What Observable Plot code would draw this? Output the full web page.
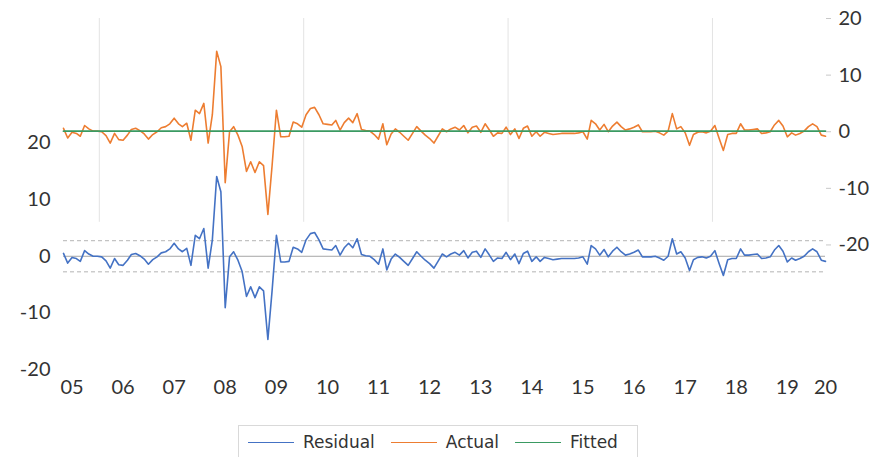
<!DOCTYPE html>
<html>
<head>
<meta charset="utf-8">
<script src="https://cdn.jsdelivr.net/npm/d3@7"></script>
<script src="https://cdn.jsdelivr.net/npm/@observablehq/plot@0.6"></script>
<style>
  html, body { margin: 0; padding: 0; background: #fff; }
  #chart { width: 878px; }
  .legend {
    box-sizing: border-box;
    margin: 5px 0 0 238px;
    width: 400px; height: 34px;
    border: 1px solid #d9d9d9;
    display: flex; align-items: center;
    padding-left: 9px;
    font-family: "DejaVu Sans", sans-serif; font-size: 17px; color: #333;
  }
  .legend .item { display: flex; align-items: center; margin-right: 16px; }
  .legend .swatch { width: 46px; height: 0; border-top: 1.6px solid; margin-right: 9px; }
</style>
</head>
<body>
<div id="chart"></div>
<script>
// Monthly observations, first month of the sample
const startMonth = [2004, 10]; // November 2004 (month is 0-based)

// Actual values (right-hand scale)
const actual = [
  0.6, -1.1, -0.1, -0.3, -0.8, 1.1, 0.5, 0.1, 0.1, 0.0,
  -0.7, -2.0, -0.3, -1.4, -1.5, -0.6, 0.4, 0.6, 0.2, -0.4,
  -1.3, -0.5, 0.0, 0.7, 0.9, 1.4, 2.4, 1.4, 0.9, 1.5,
  -1.5, 3.8, 3.2, 5.0, -2.0, 3.0, 14.2, 11.5, -9.0, 0.0,
  0.9, -0.6, -2.6, -7.0, -5.3, -7.2, -5.3, -6.0, -14.6, -6.0,
  3.8, -0.9, -0.9, -0.8, 1.7, 1.4, 0.8, 3.0, 4.1, 4.3,
  3.0, 1.4, 1.3, 1.2, 2.0, 0.3, 1.6, 2.4, 1.6, 3.2,
  0.4, 0.2, 0.1, -0.5, -1.3, 1.4, -2.3, -0.4, 0.5, -0.1,
  -0.8, -1.5, -0.3, 0.9, 0.1, -0.6, -1.2, -2.0, -0.8, 0.5,
  0.0, 0.5, 0.8, 0.3, 1.1, -0.2, 0.8, 1.0, -0.1, 1.4,
  0.4, -0.8, -0.2, -0.3, 0.8, -0.5, 0.5, -1.2, 0.6, 1.0,
  -0.8, 0.0, -0.8, -0.1, -0.3, -0.5, -0.4, -0.3, -0.3, -0.3,
  -0.3, -0.2, 0.0, -1.3, 2.0, 1.4, 0.3, 1.3, 0.0, 1.0,
  1.7, 0.9, 0.3, 0.5, 0.8, 1.2, 0.0, 0.0, 0.0, 0.1,
  -0.2, -0.6, 0.1, 3.2, 0.5, 0.9, -0.2, -2.4, -0.5, -0.1,
  0.0, -0.2, 0.1, 1.1, -1.2, -3.3, -0.5, -0.3, -0.3, 1.4,
  0.3, 0.3, 0.4, 0.5, -0.3, -0.2, 0.0, 1.2, 2.0, 1.0,
  -0.9, -0.2, -0.6, -0.3, 0.1, 0.9, 1.4, 0.9, -0.6, -0.8
];

// Fitted value (constant-only model) and standard error of the regression
const fittedLevel = 0.1;
const residualSE = 2.75;

// Axis ticks
const leftTicks = [-20, -10, 0, 10, 20];
const rightTicks = [-20, -10, 0, 10, 20];
const yearTickDates = ["2005-01-01", "2006-01-01", "2007-01-01", "2008-01-01", "2009-01-01",
  "2010-01-01", "2011-01-01", "2012-01-01", "2013-01-01", "2014-01-01", "2015-01-01",
  "2016-01-01", "2017-01-01", "2018-01-01", "2019-01-01", "2019-10-01"];
const yearTickLabels = ["05", "06", "07", "08", "09", "10", "11", "12", "13", "14",
  "15", "16", "17", "18", "19", "20"];
const gridDates = ["2005-07-15", "2009-07-15", "2013-07-15", "2017-07-15"];

// Legend entries
const seriesNames = ["Residual", "Actual", "Fitted"];
const seriesColors = ["#4472c4", "#ed7d31", "#3a9a62"];

// The actual/fitted panel sits above the residual panel: right-hand 0 lines up with left-hand 22
const panelOffset = 22;

const rows = actual.map((a, i) => ({
  date: new Date(Date.UTC(startMonth[0], startMonth[1] + i, 1)),
  actual: a,
  fitted: fittedLevel,
  residual: a - fittedLevel
}));

const tickDates = yearTickDates.map(d => new Date(d + "T00:00:00Z"));
const labelByTime = new Map(tickDates.map((d, i) => [+d, yearTickLabels[i]]));
const hyphen = v => (v < 0 ? "-" + Math.abs(v) : String(v));

const chart = Plot.plot({
  width: 878,
  height: 420,
  marginLeft: 63,
  marginRight: 53,
  marginTop: 18,
  marginBottom: 51,
  style: { fontFamily: "Lato, sans-serif", fontSize: "20px", color: "#333", background: "#fff" },
  x: { type: "utc", domain: [rows[0].date, rows[rows.length - 1].date] },
  y: { domain: [-20, 42] },
  marks: [
    Plot.ruleX(gridDates.map(d => new Date(d + "T00:00:00Z")), { y1: 6, y2: 42, stroke: "#e3e3e3" }),
    Plot.ruleY([0], { stroke: "#a6a6a6" }),
    Plot.ruleY([-residualSE, residualSE], { stroke: "#b4b4b4", strokeDasharray: "4,3" }),
    Plot.lineY(rows, { x: "date", y: "residual", stroke: seriesColors[0], strokeWidth: 1.6 }),
    Plot.lineY(rows, { x: "date", y: d => d.actual + panelOffset, stroke: seriesColors[1], strokeWidth: 1.6 }),
    Plot.lineY(rows, { x: "date", y: d => d.fitted + panelOffset, stroke: seriesColors[2], strokeWidth: 1.8 }),
    Plot.axisX({ ticks: tickDates, tickFormat: d => labelByTime.get(+d), tickSize: 0, tickPadding: 10, label: null }),
    Plot.axisY({ anchor: "left", ticks: leftTicks, tickFormat: hyphen, tickSize: 0, tickPadding: 13, label: null }),
    Plot.axisY({ anchor: "right", ticks: rightTicks.map(v => v + panelOffset),
      tickFormat: v => hyphen(v - panelOffset), tickSize: 5, tickPadding: 8, stroke: "#c8c8c8", label: null })
  ]
});
document.getElementById("chart").appendChild(chart);

// Legend below the chart
const legend = document.createElement("div");
legend.className = "legend";
seriesNames.forEach((name, i) => {
  const item = document.createElement("div");
  item.className = "item";
  const sw = document.createElement("span");
  sw.className = "swatch";
  sw.style.borderTopColor = seriesColors[i];
  const label = document.createElement("span");
  label.textContent = name;
  item.append(sw, label);
  legend.appendChild(item);
});
document.getElementById("chart").appendChild(legend);
</script>
</body>
</html>
